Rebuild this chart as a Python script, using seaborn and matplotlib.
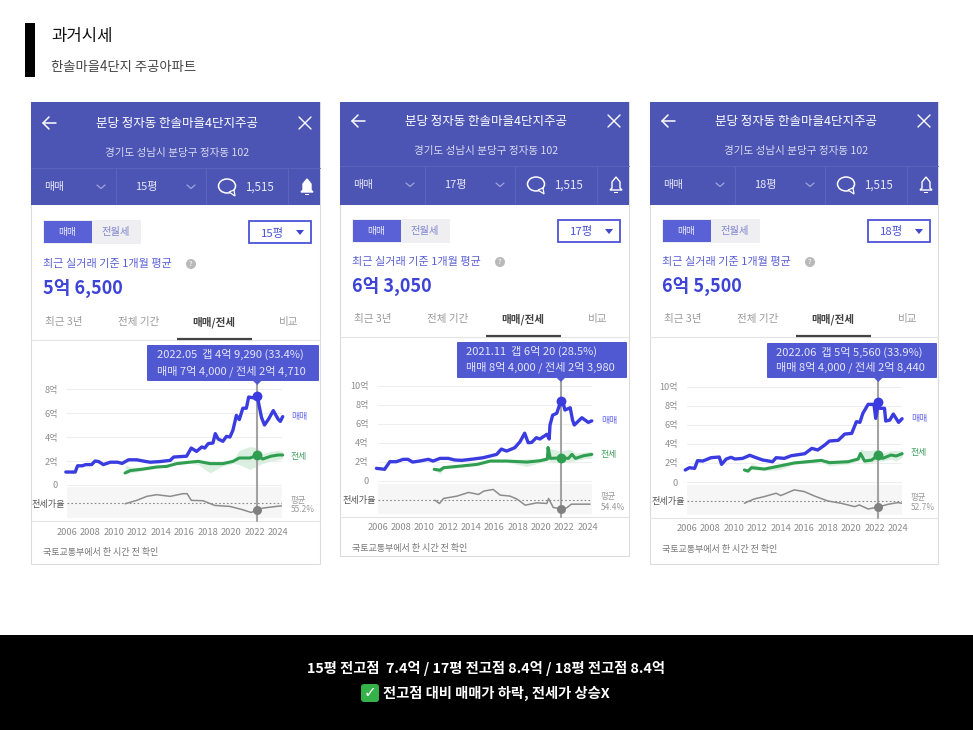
import matplotlib
matplotlib.use('Agg')
import matplotlib.pyplot as plt
from matplotlib.patches import Rectangle, Polygon, Ellipse, FancyBboxPatch
import pandas as pd
import seaborn as sns

sns.set_theme(style='white')
plt.rcParams['font.family'] = ['Noto Sans CJK KR', 'DejaVu Sans']

W, H = 973, 730
INDIGO = '#4c55b4'
BLUE = '#3a3ce0'
GREEN = '#2f9e50'
GREY = '#8c8c8c'

# ---- data: years, 억 won, percent
sale_years_15 = [2005.9, 2006.7, 2006.9, 2007.3, 2007.6, 2008.1, 2008.4, 2008.7, 2009.1, 2009.7, 2010.3, 2010.7,
                 2011.25, 2011.95, 2012.65, 2013.1, 2013.9, 2014.8, 2015.1, 2016.2, 2016.6, 2017.05, 2017.5,
                 2017.75, 2018.05, 2018.45, 2018.65, 2018.9, 2019.3, 2019.6, 2019.9, 2020.15, 2020.45, 2020.7,
                 2021, 2021.3, 2021.5, 2022, 2022.23, 2022.4, 2022.6, 2022.85, 2023.2, 2023.6, 2024, 2024.2, 2024.4]
sale_15 = [1.08, 1.08, 1.6, 1.6, 1.7, 1.7, 2.0, 1.95, 1.7, 1.9, 1.9, 1.8, 2.1, 2.1, 1.97, 1.9, 1.95, 2.05, 2.33,
           2.4, 3.08, 2.8, 3.17, 3.08, 3.45, 3.5, 4.28, 3.83, 3.64, 4.05, 4.0, 4.55, 5.8, 5.45, 6.4, 6.4, 7.33,
           7.25, 7.44, 6.55, 5.6, 5.0, 5.5, 6.2, 5.5, 5.3, 5.7]
rent_years_15 = [2010.95, 2011.4, 2012.5, 2013.65, 2014.5, 2015.35, 2016.45, 2017.2, 2018.2, 2019.3, 2020.15,
                 2020.7, 2021.6, 2022.23, 2022.7, 2023.4, 2024, 2024.4]
rent_15 = [1.0, 1.2, 1.33, 1.5, 1.55, 1.78, 1.9, 1.97, 1.78, 1.78, 1.97, 2.25, 2.25, 2.47, 2.17, 2.4, 2.5, 2.5]
rent_lo_15 = [1.0, 1.0, 1.2, 1.4, 1.5, 1.7, 1.8, 1.7, 1.0, 1.6, 1.8, 1.7, 1.3, 1.6, 1.8, 2.0, 2.1, 2.2]
rent_hi_15 = [1.7, 1.5, 1.45, 1.6, 1.65, 1.85, 2.0, 2.1, 2.0, 1.9, 2.1, 2.9, 3.2, 3.1, 2.6, 2.8, 2.9, 2.8]
ratio_years_15 = [2010.96, 2011.95, 2012.8, 2013.65, 2014.8, 2015.9, 2016.25, 2016.6, 2017.6, 2018.6, 2019.9,
                  2021, 2021.7, 2022.23, 2022.7, 2023.85, 2024.4]
ratio_15 = [53, 63, 75, 80, 75, 83, 83, 63, 62, 48, 45, 35, 27, 33.4, 40, 45, 47]

sale_years_17 = [2005.9, 2006.6, 2007.05, 2007.6, 2008.2, 2008.6, 2009, 2009.6, 2010.35, 2010.75, 2011.35, 2012.05,
                 2012.6, 2013.2, 2014.2, 2015.05, 2016.2, 2016.6, 2017.05, 2017.75, 2018.2, 2018.6, 2018.9, 2019.2,
                 2019.6, 2019.9, 2020.5, 2020.7, 2020.77, 2021, 2021.35, 2021.7, 2021.85, 2022.05, 2022.5, 2022.7,
                 2022.85, 2023.5, 2024.05, 2024.35]
sale_17 = [1.3, 1.2, 2.0, 2.0, 2.25, 2.25, 1.96, 2.07, 2.25, 2.07, 2.35, 2.35, 2.18, 2.14, 2.28, 2.42, 2.77, 3.33,
           3.12, 3.47, 4.1, 5.0, 4.0, 4.03, 4.53, 4.39, 4.88, 4.39, 5.86, 6.9, 7.1, 8.4, 8.4, 7.44, 7.68, 6.39,
           5.86, 6.63, 6.14, 6.3]
rent_years_17 = [2010.85, 2011.35, 2011.65, 2013.1, 2014.55, 2015.65, 2017.05, 2018.8, 2019.9, 2020.55, 2020.6,
                 2020.8, 2021.7, 2022.35, 2022.65, 2022.95, 2023.65, 2024.35]
rent_17 = [1.2, 1.1, 1.37, 1.54, 1.72, 2.07, 2.07, 1.96, 2.1, 2.28, 3.5, 2.35, 2.4, 2.35, 2.77, 2.35, 2.63, 2.77]
rent_lo_17 = [1.1, 0.7, 1.2, 1.4, 1.6, 1.95, 1.95, 1.5, 1.9, 2.1, 2.2, 2.0, 1.9, 2.0, 2.0, 2.1, 2.3, 2.4]
rent_hi_17 = [1.3, 1.5, 1.5, 1.7, 1.85, 2.2, 2.2, 2.3, 2.3, 2.6, 3.6, 3.4, 3.1, 3.3, 3.2, 2.9, 3.0, 3.1]
ratio_years_17 = [2010.9, 2011.3, 2011.65, 2012.8, 2013.8, 2014.65, 2015.1, 2015.9, 2016.5, 2017.35, 2017.95,
                  2018.65, 2019.65, 2020.5, 2020.65, 2021.05, 2021.7, 2022.2, 2022.6, 2024.2]
ratio_17 = [54, 44, 59, 66, 77, 71, 81, 86, 69, 66, 57, 39, 46, 44, 59, 32, 28.5, 31, 42, 42]

sale_years_18 = [2005.85, 2006.2, 2006.65, 2006.9, 2007.35, 2008.05, 2008.75, 2008.95, 2009.35, 2009.75, 2010.1,
                 2010.75, 2011.35, 2011.9, 2012.45, 2013.3, 2013.6, 2014.3, 2014.9, 2016.05, 2016.65, 2017.15,
                 2017.75, 2018.15, 2018.9, 2019.45, 2020.05, 2020.45, 2020.75, 2021, 2021.45, 2021.95, 2022.1,
                 2022.32, 2022.45, 2022.85, 2022.95, 2023.3, 2023.6, 2024.05, 2024.35]
sale_18 = [1.26, 1.5, 1.43, 2.24, 2.2, 2.55, 2.62, 1.85, 2.41, 2.59, 2.41, 2.48, 2.8, 2.55, 2.31, 2.13, 2.55, 2.48,
           2.76, 2.97, 3.53, 3.36, 3.88, 4.3, 4.37, 5.03, 5.1, 6.33, 6.26, 7.2, 8.15, 8.15, 6.68, 8.4, 7.73, 7.73,
           6.4, 6.5, 7.13, 6.26, 6.64]
rent_years_18 = [2010.9, 2011.2, 2011.5, 2012.6, 2013.9, 2015.15, 2016.3, 2017.45, 2018.15, 2019.75, 2020.6, 2020.8,
                 2021.15, 2021.75, 2022.32, 2022.7, 2023.4, 2023.85, 2024.35]
rent_18 = [1.26, 1.15, 1.5, 1.36, 1.68, 2.0, 2.13, 2.27, 2.03, 2.13, 2.41, 3.0, 2.2, 2.3, 2.84, 2.48, 2.83, 2.73, 2.97]
rent_lo_18 = [1.1, 0.95, 1.3, 1.2, 1.3, 1.85, 2.0, 2.1, 1.7, 1.9, 2.2, 2.4, 1.9, 2.0, 2.2, 2.2, 2.4, 2.2, 2.6]
rent_hi_18 = [1.4, 1.3, 1.95, 1.5, 1.9, 2.15, 2.3, 2.4, 2.3, 2.3, 2.7, 3.5, 3.3, 3.3, 3.5, 3.0, 3.3, 3.3, 3.3]
ratio_years_18 = [2010.9, 2011.2, 2011.75, 2012.6, 2013.6, 2014, 2015.15, 2016, 2016.85, 2018, 2019.15, 2020.3,
                  2020.7, 2021.45, 2022.32, 2023.15, 2024, 2024.35]
ratio_18 = [45, 50, 58, 65, 75, 68, 85, 80, 67, 52, 45, 35, 40, 28, 33.9, 42, 47, 45]

year_ticks = list(range(2006, 2025, 2))
ticks_15 = [0, 2, 4, 6, 8]
ticks_big = [0, 2, 4, 6, 8, 10]

# one entry per screenshot, x/y in figure pixels
panels = [
    dict(x0=31, x1=320, bottom=564, dy=0, tab_dy=0, size='15평', value='5억 6,500', bell=True,
         sale_x=sale_years_15, sale=sale_15, rent_x=rent_years_15, rent=rent_15, lo=rent_lo_15, hi=rent_hi_15,
         ratio_x=ratio_years_15, ratio=ratio_15, avg=55.2, ticks=ticks_15,
         hover=(2022.23, 7.4, 2.47, 33.4),
         tip=('2022.05  갭 4억 9,290 (33.4%)', '매매 7억 4,000 / 전세 2억 4,710'),
         tip_box=(147, 319, 345, 381), tip_text=(157, 354, 371),
         px2006=67, px2024=278, grid_end=282, zero=485, top_val=389, band=(487, 518), avg_y=503, sep=521,
         year_y=533, foot_y=552, label_y=(416, 456)),
    dict(x0=340, x1=629, bottom=556, dy=-2, tab_dy=-3, size='17평', value='6억 3,050', bell=False,
         sale_x=sale_years_17, sale=sale_17, rent_x=rent_years_17, rent=rent_17, lo=rent_lo_17, hi=rent_hi_17,
         ratio_x=ratio_years_17, ratio=ratio_17, avg=54.4, ticks=ticks_big,
         hover=(2021.7, 8.4, 2.4, 28.5),
         tip=('2021.11  갭 6억 20 (28.5%)', '매매 8억 4,000 / 전세 2억 3,980'),
         tip_box=(457, 627, 342, 378), tip_text=(466, 351, 367),
         px2006=377.6, px2024=587.7, grid_end=592, zero=480.7, top_val=385.7, band=(484, 514), avg_y=500, sep=517,
         year_y=528, foot_y=548, label_y=(420, 454)),
    dict(x0=650, x1=938, bottom=564, dy=-2, tab_dy=-3, size='18평', value='6억 5,500', bell=False,
         sale_x=sale_years_18, sale=sale_18, rent_x=rent_years_18, rent=rent_18, lo=rent_lo_18, hi=rent_hi_18,
         ratio_x=ratio_years_18, ratio=ratio_18, avg=52.7, ticks=ticks_big,
         hover=(2022.32, 8.4, 2.84, 33.9),
         tip=('2022.06  갭 5억 5,560 (33.9%)', '매매 8억 4,000 / 전세 2억 8,440'),
         tip_box=(767, 937, 343, 378), tip_text=(776, 352, 367),
         px2006=687, px2024=898, grid_end=902, zero=482, top_val=386.7, band=(484.5, 515), avg_y=500.7, sep=518,
         year_y=529, foot_y=549, label_y=(419, 453)),
]


def pixel_axes(fig, left, right, top, bottom, **kw):
    return fig.add_axes([left / W, 1 - bottom / H, (right - left) / W, (bottom - top) / H], **kw)


def draw_icons(bg, x, dy, bell):
    # back arrow, close, chevrons, speech bubble, bell
    y = 123 + dy
    bg.plot([x + 12, x + 25], [y, y], color='white', lw=1.1)
    bg.plot([x + 18, x + 12, x + 18], [y - 6, y, y + 6], color='white', lw=1.1)
    bg.plot([x + 268, x + 280], [y - 6, y + 6], color='white', lw=1)
    bg.plot([x + 268, x + 280], [y + 6, y - 6], color='white', lw=1)
    yc = 187 + dy
    for cx in (x + 70, x + 160):
        bg.plot([cx - 4, cx, cx + 4], [yc - 2, yc + 1.5, yc - 2], color='#9ea4dc', lw=0.9)
    bg.add_patch(Ellipse((x + 196, yc - 1), 17, 14, fc='none', ec='white', lw=1.1))
    bg.add_patch(Polygon([(x + 198, yc + 5), (x + 204, yc + 9), (x + 203, yc + 3)], fc=INDIGO, ec='white', lw=0.9))
    bell_pts = [(x + 270, yc + 5), (x + 272, yc + 3), (x + 272, yc - 3), (x + 276, yc - 8), (x + 280, yc - 3),
                (x + 280, yc + 3), (x + 282, yc + 5)]
    bg.add_patch(Polygon(bell_pts, closed=True, fc='white' if bell else 'none', ec='white', lw=1))
    bg.add_patch(Rectangle((x + 274, yc + 7), 4, 1.2, fc='white', ec='none'))


def draw_card(bg, p):
    x, dy = p['x0'], p['dy']
    bg.add_patch(Rectangle((x, 102), p['x1'] - x, p['bottom'] - 102, fc='white', ec='#dcdcdc', lw=0.8))
    bg.add_patch(Rectangle((x, 102), p['x1'] - x, 102.5, fc=INDIGO, ec='none'))
    bg.plot([x, p['x1']], [168 + dy, 168 + dy], color='#5c64bd', lw=0.7)
    for off in (85, 175, 257):
        bg.plot([x + off, x + off], [168 + dy, 204], color='#5c64bd', lw=0.7)
    draw_icons(bg, x, dy, p['bell'])
    t = dict(ha='center', va='center')
    bg.text(x + 146, 123 + dy, '분당 정자동 한솔마을4단지주공', color='white', fontsize=9, **t)
    bg.text(x + 146, 153 + dy, '경기도 성남시 분당구 정자동 102', color='#d9dbf0', fontsize=7.6, **t)
    bg.text(x + 23, 187 + dy, '매매', color='#e6e7f5', fontsize=7.8, **t)
    bg.text(x + 115, 187 + dy, p['size'], color='#e6e7f5', fontsize=8, **t)
    bg.text(x + 228, 187 + dy, '1,515', color='#e6e7f5', fontsize=8.4, **t)
    # toggle and size box
    tdy = dy + 1 if dy else 0
    bg.add_patch(Rectangle((x + 12, 220 + tdy), 98, 24, fc='#efeff1', ec='none'))
    bg.add_patch(Rectangle((x + 13, 221 + tdy), 48, 22, fc='#5a61d6', ec='none'))
    bg.text(x + 36, 232 + tdy, '매매', color='#e8e9fb', fontsize=7, **t)
    bg.text(x + 85, 232 + tdy, '전월세', color='#7f84cf', fontsize=7.4, **t)
    bg.add_patch(Rectangle((x + 218, 221 + tdy), 62, 22, fc='white', ec='#4b52d6', lw=1.3))
    bg.text(x + 242, 233 + tdy, p['size'], color='#4b52d6', fontsize=8.2, **t)
    bg.add_patch(Polygon([(x + 265, 230 + tdy), (x + 273, 230 + tdy), (x + 269, 235 + tdy)], fc='#3f46cf', ec='none'))
    # current price
    bg.text(x + 12, 264 + dy, '최근 실거래 기준 1개월 평균', color='#5a60d4', fontsize=8, ha='left', va='center')
    bg.add_patch(Ellipse((x + 160, 264 + dy), 10, 10, fc='#b9b9b9', ec='none'))
    bg.text(x + 160, 264 + dy, '?', color='white', fontsize=5.5, **t)
    bg.text(x + 12, 288 + dy, p['value'], color='#3d43d6', fontsize=13, fontweight='bold', ha='left', va='center')
    # tabs
    ty = 322 + p['tab_dy']
    for off, name, col in ((33, '최근 3년', '#9a9a9a'), (108, '전체 기간', '#9a9a9a'),
                           (183, '매매/전세', '#444444'), (258, '비교', '#9a9a9a')):
        bg.text(x + off, ty, name, color=col, fontsize=7.6, fontweight='bold' if col == '#444444' else 'normal', **t)
    bg.plot([x, p['x1']], [ty + 18, ty + 18], color='#e4e4e4', lw=0.8)
    bg.plot([x + 146, x + 221], [ty + 17, ty + 17], color='#444444', lw=1.6, solid_capstyle='butt')
    bg.plot([x, p['x1']], [p['sep'], p['sep']], color='#e4e4e4', lw=0.8)
    bg.text(x + 12, p['foot_y'], '국토교통부에서 한 시간 전 확인', color='#777777', fontsize=6.5, ha='left', va='center')
    # labels right of the chart
    lx = p['grid_end'] + 9
    bg.text(lx, p['label_y'][0], '매매', color='#6668ee', fontsize=6.4, ha='left', va='center')
    bg.text(lx, p['label_y'][1], '전세', color='#3f9f5c', fontsize=6.4, ha='left', va='center')
    bg.text(lx, p['avg_y'] - 3, '평균', color='#999999', fontsize=6, ha='left', va='center')
    bg.text(lx, p['avg_y'] + 7, f"{p['avg']}%", color='#999999', fontsize=6, ha='left', va='center')


def draw_charts(fig, p):
    per_year = (p['px2024'] - p['px2006']) / 18
    xlim = (2006, 2006 + (p['grid_end'] - p['px2006']) / per_year)
    band_top, band_bottom = p['band']
    tip_left, tip_right, tip_top, tip_bottom = p['tip_box']
    hx, h_sale, h_rent, h_ratio = p['hover']

    # price chart
    ax = pixel_axes(fig, p['px2006'], p['grid_end'], tip_bottom, band_top, facecolor='none')
    per_uk = (p['zero'] - p['top_val']) / p['ticks'][-1]
    ax.set_xlim(xlim)
    ax.set_ylim((p['zero'] - band_top) / per_uk, (p['zero'] - tip_bottom) / per_uk)
    ax.fill_between(p['rent_x'], p['lo'], p['hi'], color='#d3ebd9', lw=0, alpha=0.8)
    ax.axvline(hx, color='#a3a3a3', lw=1.5, zorder=1)
    sale_df = pd.DataFrame({'year': p['sale_x'], 'price': p['sale']})
    rent_df = pd.DataFrame({'year': p['rent_x'], 'price': p['rent']})
    sns.lineplot(data=rent_df, x='year', y='price', ax=ax, color=GREEN, lw=2.2, estimator=None, sort=False,
                 clip_on=False, zorder=3)
    sns.lineplot(data=sale_df, x='year', y='price', ax=ax, color=BLUE, lw=2.4, estimator=None, sort=False,
                 clip_on=False, zorder=4)
    sns.scatterplot(x=[hx], y=[h_rent], ax=ax, color=GREEN, s=50, linewidth=0, zorder=5)
    sns.scatterplot(x=[hx], y=[h_sale], ax=ax, color=BLUE, s=50, linewidth=0, zorder=5, clip_on=False)
    ax.set_yticks(p['ticks'], [f'{v}억' if v else '0' for v in p['ticks']])
    ax.set_xticks([])
    ax.set(xlabel='', ylabel='')
    ax.tick_params(axis='y', length=0, pad=6.5, labelsize=6.6, labelcolor='#8f8f8f')
    ax.grid(axis='y', color='#eeeeee', lw=0.8)
    ax.set_axisbelow(True)
    sns.despine(ax=ax, left=True, bottom=True)

    # ratio strip
    rx = pixel_axes(fig, p['px2006'], p['grid_end'], band_top, band_bottom, facecolor='#f6f6f6')
    rx.set_xlim(xlim)
    rx.set_ylim(p['avg'] - (band_bottom - p['avg_y']) / 0.335, p['avg'] + (p['avg_y'] - band_top) / 0.335)
    rx.axhline(p['avg'], color='#8a8a8a', lw=0.8, ls=(0, (1.5, 2)))
    rx.plot(hx, p['avg'], alpha=0)
    rx.axvline(hx, ymin=(band_bottom - p['sep']) / (band_bottom - band_top), ymax=1, color='#a3a3a3', lw=1.5,
               clip_on=False, zorder=1)
    ratio_df = pd.DataFrame({'year': p['ratio_x'], 'ratio': p['ratio']})
    sns.lineplot(data=ratio_df, x='year', y='ratio', ax=rx, color=GREY, lw=1.1, estimator=None, sort=False)
    sns.scatterplot(x=[hx], y=[h_ratio], ax=rx, color='#808080', s=42, linewidth=0, zorder=5)
    rx.set_yticks([p['avg']], ['전세가율'])
    rx.set_xticks(year_ticks, [str(y) for y in year_ticks])
    rx.set(xlabel='', ylabel='')
    rx.tick_params(axis='y', length=0, pad=1.5, labelsize=6.6, labelcolor='#555555')
    rx.tick_params(axis='x', length=0, labelsize=6.7, labelcolor='#8a8a8a',
                   pad=(p['year_y'] - band_bottom - 5) * 0.72)
    sns.despine(ax=rx, left=True, bottom=True)


def draw_tooltip(over, p):
    tip_left, tip_right, tip_top, tip_bottom = p['tip_box']
    tip_x, y1, y2 = p['tip_text']
    per_year = (p['px2024'] - p['px2006']) / 18
    hx_px = p['px2006'] + (p['hover'][0] - 2006) * per_year
    over.add_patch(FancyBboxPatch((tip_left + 1, tip_top + 1), tip_right - tip_left - 2, tip_bottom - tip_top - 2,
                                  boxstyle='round,pad=1', fc='#5059d2', ec='none'))
    over.add_patch(Polygon([(hx_px - 4, tip_bottom), (hx_px + 4, tip_bottom), (hx_px, tip_bottom + 4)],
                           fc='#5059d2', ec='none'))
    over.text(tip_x, y1, p['tip'][0], color='#e4e5fa', fontsize=8, ha='left', va='center')
    over.text(tip_x, y2, p['tip'][1], color='#e4e5fa', fontsize=8, ha='left', va='center')


fig = plt.figure(figsize=(W / 100, H / 100), dpi=100, facecolor='white')
bg = fig.add_axes([0, 0, 1, 1], zorder=0)
bg.set_xlim(0, W)
bg.set_ylim(H, 0)
bg.axis('off')

# heading
bg.add_patch(Rectangle((25, 23), 10, 54, fc='black', ec='none'))
bg.text(51, 37, '과거시세', color='#111111', fontsize=12, ha='left', va='center')
bg.text(51, 67, '한솔마을4단지 주공아파트', color='#444444', fontsize=9.6, ha='left', va='center')

for p in panels:
    draw_card(bg, p)
    draw_charts(fig, p)

over = fig.add_axes([0, 0, 1, 1], zorder=5, facecolor='none')
over.set_xlim(0, W)
over.set_ylim(H, 0)
over.axis('off')
for p in panels:
    draw_tooltip(over, p)

# bottom summary band
bg.add_patch(Rectangle((0, 635), W, 95, fc='black', ec='none'))
bg.text(486, 669, '15평 전고점  7.4억 / 17평 전고점 8.4억 / 18평 전고점 8.4억', color='white', fontsize=10.3,
        fontweight='bold', ha='center', va='center')
bg.text(496.5, 693, '전고점 대비 매매가 하락, 전세가 상승X', color='white', fontsize=10.3, fontweight='bold',
        ha='center', va='center')
bg.add_patch(FancyBboxPatch((362, 685), 16, 16, boxstyle='round,pad=1,rounding_size=3', fc='#35b34a', ec='none'))
bg.text(370, 692.5, '\u2713', color='white', fontsize=11, fontweight='bold', family='DejaVu Sans',
        ha='center', va='center')

fig.savefig('out.png', dpi=100)
